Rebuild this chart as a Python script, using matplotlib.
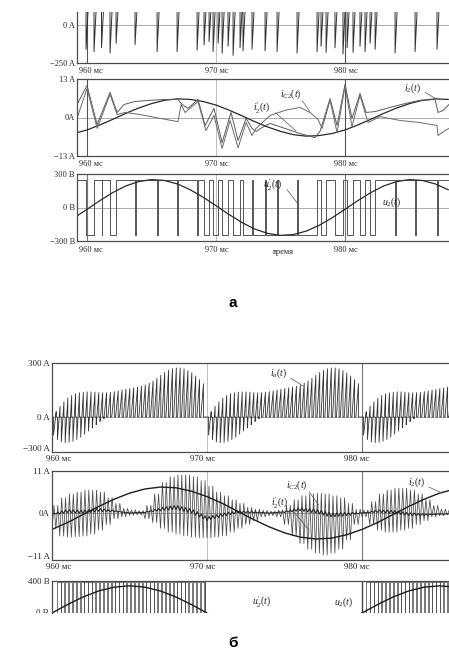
import matplotlib
matplotlib.use("Agg")
import numpy as np
import matplotlib.pyplot as plt
from matplotlib.transforms import Bbox, TransformedBbox, blended_transform_factory

plt.rcParams['font.family'] = ['Liberation Serif', 'DejaVu Serif']
plt.rcParams['mathtext.fontset'] = 'custom'
plt.rcParams['mathtext.rm'] = 'Liberation Serif'
plt.rcParams['mathtext.it'] = 'Liberation Serif:italic'
plt.rcParams['mathtext.bf'] = 'Liberation Serif:bold'

# ------------------------------------------------------------------ data
time_ticks = [960, 970, 980]
time_labels = ["960 мс", "970 мс", "980 мс"]

# ---- (а) low switching frequency
a_t_range = (959.22, 988.06)

# bridge voltage: starts high, toggles at these instants (ms)
a_pwm_level = 250
a_pwm_edges = [959.92, 960.54, 961.12, 961.19, 961.78, 962.25, 963.72, 963.78,
               965.43, 965.49, 966.98, 967.04, 968.53, 968.60, 969.07, 969.46,
               969.77, 970.16, 970.47, 970.93, 971.32, 971.86, 972.09, 972.79,
               972.87, 973.80, 973.86, 974.73, 974.79, 976.28, 976.34, 977.83,
               978.14, 978.53, 979.22, 979.84, 980.16, 980.62, 981.16, 981.55,
               981.94, 982.33, 983.88, 983.94, 985.43, 985.49, 987.13, 987.19]
# input current dips at the switching instants (A), None = no separate dip
a_ia_dips = [-160, -175, -150, None, -185, -120, -130, None,
             -175, None, -175, None, -165, None, -130, -110,
             -175, -120, -185, -140, -200, -150, -170, -160,
             None, -170, None, -175, None, -185, None, -175,
             -140, -180, -150, -190, -150, -180, -140, -175,
             -120, -160, -185, None, -175, None, -160, None]
a_ia_ramp = 0.22
a_ia_off = 200

# load current i2 and output voltage u2, sampled every 1 ms from 959 ms
a_ms = list(range(959, 989))
a_i2 = [-5.4, -4.2, -2.5, -0.6, 1.4, 3.2, 4.7, 5.8, 6.3, 6.1, 5.4, 4.2, 2.5, 0.6,
        -1.4, -3.2, -4.7, -5.8, -6.3, -6.1, -5.4, -4.2, -2.5, -0.6, 1.4, 3.2,
        4.7, 5.8, 6.3, 6.1]
a_u2 = [-92, -16, 62, 134, 193, 232, 250, 242, 211, 159, 92, 16, -62, -134,
        -193, -232, -250, -242, -211, -159, -92, -16, 62, 134, 193, 232, 250,
        242, 211, 159]

# inverter-side current i2' (break points)
a_i2p_t = [959.22, 960.00, 960.78, 961.78, 962.33, 962.87, 963.72, 964.88, 966.05,
           967.05, 967.36, 967.83, 968.60, 969.15, 969.84, 970.47, 971.16, 971.71,
           972.33, 972.79, 973.10, 973.57, 974.19, 975.35, 976.51, 977.67, 978.06,
           978.84, 979.38, 980.00, 980.54, 981.16, 981.63, 982.33, 983.49, 984.65,
           985.81, 986.98, 987.21, 987.60, 988.06]
a_i2p_v = [4.4, 10.8, -2.4, 8.5, 1.7, 4.4, 5.4, 5.8, 6.1,
           6.1, 4.4, 3.1, 6.1, -2.7, 3.1, -8.5, 1.7, -7.8,
           -0.3, -3.7, -4.7, -3.4, -2.0, -3.7, -5.4, -6.8, -4.7,
           6.4, -2.7, 11.2, -0.3, 8.1, 1.7, 2.0, 3.4, 4.7,
           5.8, 6.1, 1.7, 2.4, 4.4]
# capacitor current iC2 (break points)
a_ic2_t = [959.22, 960.00, 960.78, 961.78, 962.33, 962.95, 964.11, 965.66, 967.05,
           967.29, 967.60, 968.60, 969.22, 969.84, 970.47, 971.09, 971.71, 972.33,
           972.79, 973.10, 974.19, 975.35, 976.51, 977.29, 977.91, 978.22, 978.84,
           979.38, 980.00, 980.54, 981.16, 981.78, 982.71, 984.26, 985.81, 987.13,
           987.21, 987.75, 988.06]
a_ic2_v = [-0.3, 9.8, -3.7, 7.8, 1.0, 1.7, 1.0, -0.3, -1.4,
           4.4, 1.7, 5.4, -4.4, 0.7, -10.5, -1.0, -10.2, -1.7,
           -6.1, -3.7, 0.7, 2.4, 3.4, 1.7, -0.7, -3.7, 5.8,
           -5.1, 10.5, -3.1, 7.5, -1.7, 0.3, -1.0, -1.7, -2.7,
           -6.1, -4.4, -3.7]

# ---- (б) high switching frequency
b_t_range = (960.0, 985.61)

# input current: one burst of pulses every 10 ms, pulse period 0.25 ms
b_burst_starts = [960.1, 970.1, 980.1]
b_pulse_period = 0.25
b_pulse_ramp = 0.17
b_ia_high = [30, 60, 85, 105, 120, 130, 135, 138, 140, 140, 138, 136, 135, 135,
             137, 141, 145, 150, 154, 158, 162, 166, 171, 178, 188, 200, 215,
             232, 248, 260, 268, 272, 272, 268, 258, 245, 228, 208, 185]
b_ia_low = [-100, -125, -138, -142, -140, -135, -125, -112, -95, -78, -60, -42,
            -25, -10] + [0] * 25

# load current and output voltage, every 1 ms from 960 ms
b_ms = list(range(960, 987))
b_i2 = [-4.3, -2.5, -0.4, 1.7, 3.6, 5.2, 6.3, 6.8, 6.6, 5.7, 4.3, 2.5, 0.4, -1.7,
        -3.6, -5.2, -6.3, -6.8, -6.6, -5.7, -4.3, -2.5, -0.4, 1.7, 3.6, 5.2, 6.3]
b_u2 = [0, 105, 200, 275, 323, 340, 323, 275, 200, 105, 0, -105, -200, -275,
        -323, -340, -323, -275, -200, -105, 0, 105, 200, 275, 323, 340, 323]
b_i2p = [-0.3, 0.5, 0.3, 0.8, 0.5, 0, 0.2, 1.0, 1.5, 0.5, -1.5, -0.5, 0.3, 0.2,
         0, 0.3, 1.0, 0.5, -0.5, -0.3, 0, 0.5, 0.3, -0.3, -0.5, -0.3, -0.2]

# capacitor current ripple: upper / lower swing per 0.5 ms window from 960 ms
b_ic2_up = [2, 4, 5, 5.5, 6, 6, 5.5, 4, 2.5, 1.2,
            0.8, 0.6, 2, 5, 8, 9.5, 10, 10, 9.5, 8.5,
            7, 5.5, 4.5, 3.5, 2.5, 1.5, 1, 0.7, 0.5, 0.8,
            2, 3.5, 4.5, 5, 5.2, 5, 4.5, 4, 2.5, 1,
            0.8, 3, 5, 6, 6.5, 6.5, 6, 5, 3.5, 2,
            1, 0.8]
b_ic2_dn = [-4, -6, -6.3, -6.2, -6, -5.5, -4.5, -3, -1.5, -1,
            -0.6, -0.5, -1.5, -2.5, -4, -5, -5.5, -6, -6.3, -6.5,
            -6.5, -6.3, -6, -5, -4, -3, -2, -1, -0.7, -1,
            -3, -6, -8, -9.5, -10.5, -11, -10.5, -9.5, -7, -3,
            -1, -3, -4.5, -5, -5, -4.5, -4, -3, -2, -1,
            -0.7, -0.5]
b_ic2_window = 0.5

# bridge voltage: narrow notches every 0.25 ms inside these windows
b_pwm_level = 390
b_pwm_windows = [(960.3, 969.85), (980.25, 985.61)]
b_pwm_notch = 0.04

# ------------------------------------------------------------------ figure
W, H = 449, 664
PT = 0.72  # points per pixel at 100 dpi
fig = plt.figure(figsize=(W / 100, H / 100), dpi=100)

INK = '#333333'
FRAME = '#4d4d4d'
GRID = '#a0a0a0'


def axes_px(x0, y0, x1, y1):
    return fig.add_axes([x0 / W, 1 - y1 / H, (x1 - x0) / W, (y1 - y0) / H])


def style(ax, xlim, ylim, yticks, ylabels, top=True, bottom=True, fs=6.0):
    ax.set_xlim(*xlim)
    ax.set_ylim(*ylim)
    ax.spines['right'].set_visible(False)
    ax.spines['top'].set_visible(top)
    ax.spines['bottom'].set_visible(bottom)
    for s in ax.spines.values():
        s.set_color(FRAME)
        s.set_linewidth(0.9)
    ax.set_yticks(yticks)
    ax.set_yticklabels(ylabels)
    ax.set_xticks([])
    ax.tick_params(length=0, pad=1.5, labelsize=fs, colors='#2a2a2a')
    ax.patch.set_visible(False)
    ax.axhline(0, color=GRID, lw=0.6, zorder=0)


def time_labels_below(ax, shifts_px, drop_px=8, fs=6.0):
    for t, s, dx in zip(time_ticks, time_labels, shifts_px):
        ax.annotate(s, xy=(t, 0), xycoords=('data', 'axes fraction'),
                    xytext=(dx * PT, -drop_px * PT), textcoords='offset points',
                    ha='center', va='center', fontsize=fs, color='#2a2a2a',
                    annotation_clip=False)


def time_grid(ax, strong=(960, 980), weak=(970,), c_strong='#555555'):
    for t in strong:
        ax.axvline(t, color=c_strong, lw=0.8, zorder=0.5)
    for t in weak:
        ax.axvline(t, color='#b5b5b5', lw=0.6, zorder=0.5)


def label(ax, text, xy_text, xy_end=None, xy_start=None, fs=7):
    ax.text(*xy_text, text, fontsize=fs, ha='center', va='center', color='#222')
    if xy_end is not None:
        ax.plot([xy_start[0], xy_end[0]], [xy_start[1], xy_end[1]],
                color='#555', lw=0.5)


# ---- (а) top: input current
a1 = axes_px(77, 12, 449, 63)
style(a1, a_t_range, (-250, 85), [0, -250], ["0 A", "\u2212250 A"], top=False)
time_labels_below(a1, (4, 1, 1))
time_grid(a1)
ia_t, ia_v = [a_t_range[0]], [a_ia_off]
for t, d in zip(a_pwm_edges, a_ia_dips):
    if d is None:
        continue
    ia_t += [t, t, t + a_ia_ramp]
    ia_v += [a_ia_off, d, a_ia_off]
ia_t.append(a_t_range[1])
ia_v.append(a_ia_off)
a1.plot(ia_t, ia_v, color=INK, lw=0.7)

# ---- (а) middle: currents
a2 = axes_px(77, 79, 449, 156)
style(a2, a_t_range, (-13, 13), [13, 0, -13], ["13 A", "0A", "\u221213 A"])
time_labels_below(a2, (4, 1, 1))
time_grid(a2)
a2.plot(a_ms, a_i2, color='#2a2a2a', lw=0.9)
a2.plot(a_i2p_t, a_i2p_v, color='#5a5a5a', lw=0.7)
a2.plot(a_ic2_t, a_ic2_v, color='#6a6a6a', lw=0.7)
label(a2, r"$i_2^{\prime}(t)$", (973.55, 3.4), (976.2, -4.5), (974.6, 1.6))
label(a2, r"$i_{C2}(t)$", (975.8, 7.8), (977.3, 1.8), (976.7, 5.6))
label(a2, r"$i_2(t)$", (985.2, 9.8), (987.1, 6.2), (986.2, 8.5))

# ---- (а) bottom: voltages
a3 = axes_px(77, 174, 449, 241)
style(a3, a_t_range, (-300, 300), [300, 0, -300],
      ["300 В", "0 В", "\u2212300 В"])
time_labels_below(a3, (4, 1, 1), drop_px=9)
time_grid(a3, c_strong='#777777')
pw_t, pw_v = [a_t_range[0]], [a_pwm_level]
lvl = a_pwm_level
for e in a_pwm_edges:
    pw_t += [e, e]
    pw_v += [lvl, -lvl]
    lvl = -lvl
pw_t.append(a_t_range[1])
pw_v.append(lvl)
a3.plot(pw_t, pw_v, color='#555', lw=0.7)
a3.plot(a_ms, a_u2, color='#2a2a2a', lw=0.9)
label(a3, r"$u_2^{\prime}(t)$", (974.4, 205), (976.3, 40), (975.5, 160))
label(a3, r"$u_2(t)$", (983.6, 50))
a3.text(975.2, -0.165, "время", transform=blended_transform_factory(
    a3.transData, a3.transAxes), fontsize=6, ha='center', va='center',
    color='#2a2a2a')

fig.text(233 / W, 1 - 303 / H, "а", fontsize=11, fontweight='bold',
         family='Liberation Sans', ha='center', va='center')

# ---- (б) top: input current
b1 = axes_px(52, 363, 449, 452)
style(b1, b_t_range, (-194, 300), [300, 0, -172],
      ["300 A", "0 A", "\u2212300 A"], fs=6.5)
time_labels_below(b1, (7, -4, -5), drop_px=7, fs=6.5)
time_grid(b1, strong=(980,), weak=(970,), c_strong='#777777')
pt, pv = [b_t_range[0]], [0]
for s in b_burst_starts:
    for k, (hi, lo) in enumerate(zip(b_ia_high, b_ia_low)):
        t = s + k * b_pulse_period
        if t > b_t_range[1]:
            break
        pt += [t, t, t + b_pulse_ramp, t + b_pulse_ramp]
        pv += [0, lo, hi, 0]
pt.append(b_t_range[1])
pv.append(0)
b1.plot(pt, pv, color=INK, lw=0.6)
label(b1, r"$i_a(t)$", (974.6, 244), (976.2, 172), (975.4, 216))

# ---- (б) middle: currents
b2 = axes_px(52, 471, 449, 560)
style(b2, b_t_range, (-12.3, 11), [11, 0, -11.2], ["11 A", "0A", "\u221211 A"],
      fs=6.5)
time_labels_below(b2, (7, -4, -5), drop_px=7, fs=6.5)
time_grid(b2, strong=(980,), weak=(970,), c_strong='#777777')
osc_t, osc_v, rip = [], [], []
for w, (u, d) in enumerate(zip(b_ic2_up, b_ic2_dn)):
    t0 = b_t_range[0] + w * b_ic2_window
    mid = 0.5 * (u + d)
    for j in range(4):
        v = d if j % 2 == 0 else u
        osc_t.append(t0 + j * b_ic2_window / 4)
        osc_v.append(v)
        rip.append(0.07 * (v - mid))
b2.plot(osc_t, osc_v, color='#4a4a4a', lw=0.55)
i2p_line = np.interp(osc_t, b_ms, b_i2p) + np.array(rip)
b2.plot(osc_t, i2p_line, color='#2a2a2a', lw=0.8)
b2.plot(b_ms, b_i2, color='#1e1e1e', lw=1.0)
label(b2, r"$i_{C2}(t)$", (975.8, 7.3), (977.2, 2.1), (976.6, 5.5))
label(b2, r"$i_2^{\prime}(t)$", (974.7, 2.6), (976.6, -4.5), (975.5, 0.8))
label(b2, r"$i_2(t)$", (983.5, 8.1), (985.2, 5.2), (984.3, 6.8))

# ---- (б) bottom: voltages (lower half cut off)
b3 = axes_px(52, 581, 449, 613)
style(b3, b_t_range, (0, 400), [400], ["400 В"], bottom=False, fs=6.5)
b3.axvline(980, color='#444', lw=1.0, zorder=0.5)
vt, vv = [b_t_range[0]], [-b_pwm_level]
for (w0, w1) in b_pwm_windows:
    vt += [w0, w0]
    vv += [-b_pwm_level, b_pwm_level]
    t = w0 + b_pulse_period
    while t < w1 - b_pwm_notch:
        vt += [t, t, t + b_pwm_notch, t + b_pwm_notch]
        vv += [b_pwm_level, -b_pwm_level, -b_pwm_level, b_pwm_level]
        t += b_pulse_period
    vt += [w1, w1]
    vv += [b_pwm_level, -b_pwm_level]
b3.plot(vt, vv, color='#555', lw=0.55)
b3.plot(b_ms, b_u2, color='#1e1e1e', lw=1.0)
label(b3, r"$u_2^{\prime}(t)$", (973.55, 140))
label(b3, r"$u_2(t)$", (978.8, 140))
zero_lbl = fig.text(49 / W, 0, "0 В", fontsize=6.5, ha='right', va='center',
                    color='#2a2a2a',
                    transform=blended_transform_factory(fig.transFigure,
                                                        b3.transData))
zero_lbl.set_clip_box(TransformedBbox(Bbox([[0, 1 - 613 / H], [1, 1]]),
                                      fig.transFigure))
zero_lbl.set_clip_on(True)

fig.text(233 / W, 1 - 643 / H, "б", fontsize=11, fontweight='bold',
         family='Liberation Sans', ha='center', va='center')

fig.savefig("out.png", dpi=100, facecolor='white')
